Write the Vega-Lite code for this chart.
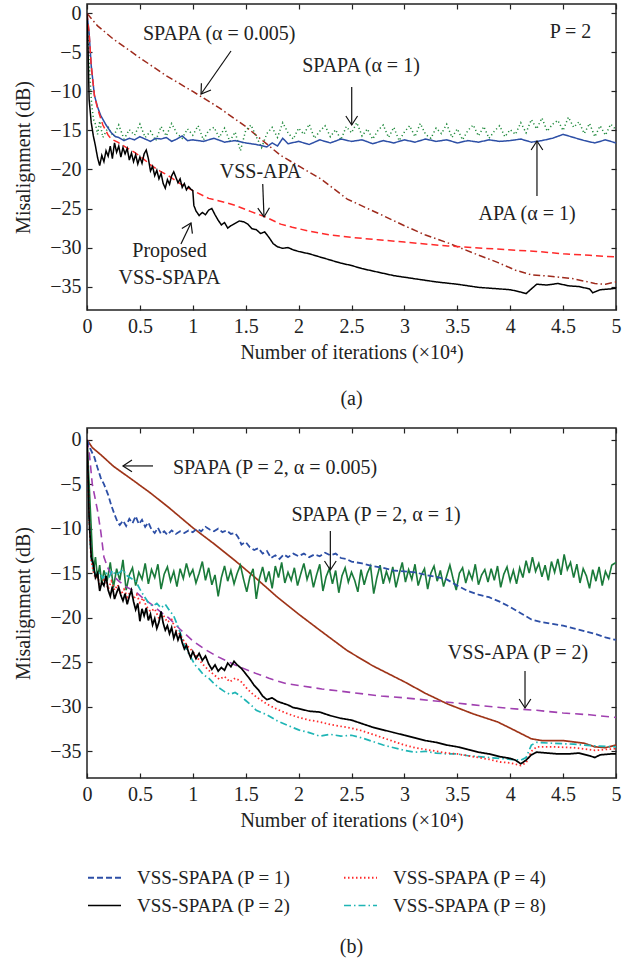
{
"$schema":"https://vega.github.io/schema/vega-lite/v6.json",
"padding":{"left":12,"top":2,"right":6,"bottom":5},
"config":{
"font":"Liberation Serif",
"view":{"stroke":"#222","strokeWidth":1.5},
"axis":{"labelFont":"Liberation Serif","labelFontSize":20,"labelColor":"#222","titleFont":"Liberation Serif","titleFontSize":20,"titleFontWeight":"normal","titleColor":"#222","tickColor":"#222","tickSize":-5,"tickWidth":1.2,"domain":false,"grid":false,"labelPadding":8,"labelFlush":false,"labelOverlap":false},
"text":{"font":"Liberation Serif","fontSize":20,"color":"#222"},
"title":{"font":"Liberation Serif","fontSize":20,"fontWeight":"normal","color":"#222"}
},
"resolve":{"scale":{"x":"independent","y":"independent","color":"independent","strokeDash":"independent","strokeWidth":"independent"}},
"datasets":{
"a":[
{"s":"a1","x":0,"y":0},{"s":"a1","x":0.1,"y":-1.6},{"s":"a1","x":0.25,"y":-3.3},{"s":"a1","x":0.5,"y":-5.7},{"s":"a1","x":0.75,"y":-8.0},{"s":"a1","x":1.0,"y":-10.0},{"s":"a1","x":1.25,"y":-12.1},{"s":"a1","x":1.5,"y":-14.5},{"s":"a1","x":1.83,"y":-18.2},{"s":"a1","x":2.02,"y":-19.7},{"s":"a1","x":2.21,"y":-21.2},{"s":"a1","x":2.46,"y":-23.8},{"s":"a1","x":2.75,"y":-25.6},{"s":"a1","x":3.0,"y":-27.2},{"s":"a1","x":3.2,"y":-28.4},{"s":"a1","x":3.41,"y":-29.4},{"s":"a1","x":3.65,"y":-30.7},{"s":"a1","x":3.88,"y":-31.9},{"s":"a1","x":4.05,"y":-32.9},{"s":"a1","x":4.2,"y":-33.5},{"s":"a1","x":4.4,"y":-33.7},{"s":"a1","x":4.6,"y":-34.0},{"s":"a1","x":4.8,"y":-34.6},{"s":"a1","x":4.9,"y":-34.7},{"s":"a1","x":5.0,"y":-34.4},
{"s":"a2","x":0,"y":0},{"s":"a2","x":0.02,"y":-6},{"s":"a2","x":0.04,"y":-11},{"s":"a2","x":0.06,"y":-13.5},{"s":"a2","x":0.08,"y":-14.2},{"s":"a2","x":0.1,"y":-15.5},{"s":"a2","x":0.12,"y":-13.8},{"s":"a2","x":0.15,"y":-15.9},{"s":"a2","x":0.2,"y":-14.6},{"s":"a2","x":0.25,"y":-15.8},{"s":"a2","x":0.3,"y":-14.3},{"s":"a2","x":0.35,"y":-16.1},{"s":"a2","x":0.4,"y":-14.9},{"s":"a2","x":0.45,"y":-15.6},{"s":"a2","x":0.5,"y":-14.2},{"s":"a2","x":0.55,"y":-15.9},{"s":"a2","x":0.6,"y":-15.1},{"s":"a2","x":0.65,"y":-16.3},{"s":"a2","x":0.7,"y":-14.5},{"s":"a2","x":0.75,"y":-15.7},{"s":"a2","x":0.8,"y":-14.1},{"s":"a2","x":0.85,"y":-15.4},{"s":"a2","x":0.9,"y":-16.0},{"s":"a2","x":0.95,"y":-14.8},{"s":"a2","x":1.0,"y":-15.6},{"s":"a2","x":1.05,"y":-14.4},{"s":"a2","x":1.1,"y":-16.2},{"s":"a2","x":1.15,"y":-15.0},{"s":"a2","x":1.2,"y":-14.6},{"s":"a2","x":1.25,"y":-15.9},{"s":"a2","x":1.3,"y":-14.7},{"s":"a2","x":1.35,"y":-16.4},{"s":"a2","x":1.4,"y":-15.2},{"s":"a2","x":1.45,"y":-17.6},{"s":"a2","x":1.5,"y":-15.0},{"s":"a2","x":1.55,"y":-14.3},{"s":"a2","x":1.6,"y":-15.8},{"s":"a2","x":1.65,"y":-17.2},{"s":"a2","x":1.7,"y":-15.4},{"s":"a2","x":1.75,"y":-14.6},{"s":"a2","x":1.8,"y":-15.9},{"s":"a2","x":1.85,"y":-14.0},{"s":"a2","x":1.9,"y":-15.3},{"s":"a2","x":1.95,"y":-16.1},{"s":"a2","x":2.0,"y":-14.7},{"s":"a2","x":2.05,"y":-15.5},{"s":"a2","x":2.1,"y":-14.2},{"s":"a2","x":2.15,"y":-16.0},{"s":"a2","x":2.2,"y":-15.1},{"s":"a2","x":2.25,"y":-14.4},{"s":"a2","x":2.3,"y":-15.8},{"s":"a2","x":2.35,"y":-14.9},{"s":"a2","x":2.4,"y":-16.2},{"s":"a2","x":2.45,"y":-14.5},{"s":"a2","x":2.5,"y":-15.3},{"s":"a2","x":2.55,"y":-14.0},{"s":"a2","x":2.6,"y":-15.7},{"s":"a2","x":2.65,"y":-14.8},{"s":"a2","x":2.7,"y":-16.1},{"s":"a2","x":2.75,"y":-15.0},{"s":"a2","x":2.8,"y":-14.3},{"s":"a2","x":2.85,"y":-15.9},{"s":"a2","x":2.9,"y":-14.6},{"s":"a2","x":2.95,"y":-16.3},{"s":"a2","x":3.0,"y":-15.2},{"s":"a2","x":3.05,"y":-14.4},{"s":"a2","x":3.1,"y":-15.8},{"s":"a2","x":3.15,"y":-14.1},{"s":"a2","x":3.2,"y":-15.5},{"s":"a2","x":3.25,"y":-16.0},{"s":"a2","x":3.3,"y":-14.7},{"s":"a2","x":3.35,"y":-15.4},{"s":"a2","x":3.4,"y":-14.2},{"s":"a2","x":3.45,"y":-15.9},{"s":"a2","x":3.5,"y":-14.8},{"s":"a2","x":3.55,"y":-16.2},{"s":"a2","x":3.6,"y":-15.0},{"s":"a2","x":3.65,"y":-14.3},{"s":"a2","x":3.7,"y":-15.7},{"s":"a2","x":3.75,"y":-14.5},{"s":"a2","x":3.8,"y":-16.0},{"s":"a2","x":3.85,"y":-15.1},{"s":"a2","x":3.9,"y":-14.4},{"s":"a2","x":3.95,"y":-15.8},{"s":"a2","x":4.0,"y":-14.9},{"s":"a2","x":4.05,"y":-15.5},{"s":"a2","x":4.1,"y":-14.0},{"s":"a2","x":4.15,"y":-15.3},{"s":"a2","x":4.2,"y":-13.6},{"s":"a2","x":4.25,"y":-14.8},{"s":"a2","x":4.3,"y":-13.4},{"s":"a2","x":4.35,"y":-15.1},{"s":"a2","x":4.4,"y":-14.2},{"s":"a2","x":4.45,"y":-13.7},{"s":"a2","x":4.5,"y":-15.0},{"s":"a2","x":4.55,"y":-13.3},{"s":"a2","x":4.6,"y":-14.6},{"s":"a2","x":4.65,"y":-13.9},{"s":"a2","x":4.7,"y":-15.4},{"s":"a2","x":4.75,"y":-14.1},{"s":"a2","x":4.8,"y":-15.8},{"s":"a2","x":4.85,"y":-14.4},{"s":"a2","x":4.9,"y":-15.6},{"s":"a2","x":4.95,"y":-14.2},{"s":"a2","x":5.0,"y":-14.9},
{"s":"a3","x":0,"y":0},{"s":"a3","x":0.02,"y":-2.5},{"s":"a3","x":0.04,"y":-6.7},{"s":"a3","x":0.07,"y":-10.5},{"s":"a3","x":0.1,"y":-12.0},{"s":"a3","x":0.13,"y":-13.1},{"s":"a3","x":0.18,"y":-14.3},{"s":"a3","x":0.23,"y":-15.3},{"s":"a3","x":0.27,"y":-15.8},{"s":"a3","x":0.3,"y":-15.9},{"s":"a3","x":0.35,"y":-16.3},{"s":"a3","x":0.4,"y":-16.0},{"s":"a3","x":0.45,"y":-16.2},{"s":"a3","x":0.5,"y":-15.8},{"s":"a3","x":0.55,"y":-16.1},{"s":"a3","x":0.6,"y":-16.4},{"s":"a3","x":0.65,"y":-16.0},{"s":"a3","x":0.7,"y":-16.1},{"s":"a3","x":0.75,"y":-15.9},{"s":"a3","x":0.8,"y":-16.4},{"s":"a3","x":0.85,"y":-16.1},{"s":"a3","x":0.9,"y":-15.7},{"s":"a3","x":0.95,"y":-16.3},{"s":"a3","x":1.0,"y":-16.2},{"s":"a3","x":1.1,"y":-16.4},{"s":"a3","x":1.2,"y":-16.0},{"s":"a3","x":1.3,"y":-16.5},{"s":"a3","x":1.4,"y":-16.3},{"s":"a3","x":1.5,"y":-16.6},{"s":"a3","x":1.6,"y":-16.8},{"s":"a3","x":1.7,"y":-17.1},{"s":"a3","x":1.75,"y":-16.6},{"s":"a3","x":1.8,"y":-17.0},{"s":"a3","x":1.85,"y":-16.0},{"s":"a3","x":1.9,"y":-16.7},{"s":"a3","x":2.0,"y":-16.4},{"s":"a3","x":2.1,"y":-16.8},{"s":"a3","x":2.2,"y":-16.2},{"s":"a3","x":2.3,"y":-16.6},{"s":"a3","x":2.4,"y":-16.1},{"s":"a3","x":2.5,"y":-16.4},{"s":"a3","x":2.6,"y":-16.2},{"s":"a3","x":2.7,"y":-16.7},{"s":"a3","x":2.8,"y":-16.3},{"s":"a3","x":2.9,"y":-16.6},{"s":"a3","x":3.0,"y":-16.2},{"s":"a3","x":3.1,"y":-16.5},{"s":"a3","x":3.2,"y":-16.1},{"s":"a3","x":3.3,"y":-16.4},{"s":"a3","x":3.4,"y":-16.2},{"s":"a3","x":3.5,"y":-16.6},{"s":"a3","x":3.6,"y":-16.3},{"s":"a3","x":3.7,"y":-16.5},{"s":"a3","x":3.8,"y":-16.2},{"s":"a3","x":3.9,"y":-16.4},{"s":"a3","x":4.0,"y":-16.3},{"s":"a3","x":4.1,"y":-16.1},{"s":"a3","x":4.2,"y":-16.5},{"s":"a3","x":4.3,"y":-16.3},{"s":"a3","x":4.4,"y":-16.0},{"s":"a3","x":4.5,"y":-15.5},{"s":"a3","x":4.6,"y":-15.9},{"s":"a3","x":4.7,"y":-16.3},{"s":"a3","x":4.8,"y":-16.6},{"s":"a3","x":4.9,"y":-16.2},{"s":"a3","x":5.0,"y":-16.6},
{"s":"a4","x":0,"y":0},{"s":"a4","x":0.02,"y":-2.5},{"s":"a4","x":0.04,"y":-6.7},{"s":"a4","x":0.07,"y":-10.5},{"s":"a4","x":0.1,"y":-12.2},{"s":"a4","x":0.15,"y":-14.3},{"s":"a4","x":0.2,"y":-15.6},{"s":"a4","x":0.23,"y":-16.1},{"s":"a4","x":0.29,"y":-16.5},{"s":"a4","x":0.35,"y":-17.0},{"s":"a4","x":0.45,"y":-17.8},{"s":"a4","x":0.53,"y":-18.6},{"s":"a4","x":0.61,"y":-19.5},{"s":"a4","x":0.69,"y":-20.2},{"s":"a4","x":0.77,"y":-20.8},{"s":"a4","x":0.88,"y":-21.8},{"s":"a4","x":1.0,"y":-22.7},{"s":"a4","x":1.15,"y":-23.7},{"s":"a4","x":1.3,"y":-24.2},{"s":"a4","x":1.4,"y":-24.6},{"s":"a4","x":1.55,"y":-25.4},{"s":"a4","x":1.69,"y":-26.1},{"s":"a4","x":1.83,"y":-27.0},{"s":"a4","x":1.94,"y":-27.4},{"s":"a4","x":2.1,"y":-27.9},{"s":"a4","x":2.3,"y":-28.4},{"s":"a4","x":2.5,"y":-28.7},{"s":"a4","x":2.75,"y":-29.0},{"s":"a4","x":3.0,"y":-29.3},{"s":"a4","x":3.41,"y":-29.8},{"s":"a4","x":3.88,"y":-30.2},{"s":"a4","x":4.25,"y":-30.5},{"s":"a4","x":4.5,"y":-30.8},{"s":"a4","x":4.75,"y":-31.0},{"s":"a4","x":5.0,"y":-31.2},
{"s":"a5","x":0,"y":0},{"s":"a5","x":0.01,"y":-4.6},{"s":"a5","x":0.02,"y":-11},{"s":"a5","x":0.04,"y":-14},{"s":"a5","x":0.06,"y":-15.7},{"s":"a5","x":0.08,"y":-17},{"s":"a5","x":0.1,"y":-18.5},{"s":"a5","x":0.12,"y":-19.5},{"s":"a5","x":0.14,"y":-18.2},{"s":"a5","x":0.16,"y":-19.0},{"s":"a5","x":0.18,"y":-17.6},{"s":"a5","x":0.2,"y":-18.3},{"s":"a5","x":0.22,"y":-17.0},{"s":"a5","x":0.24,"y":-18.6},{"s":"a5","x":0.26,"y":-16.6},{"s":"a5","x":0.28,"y":-17.8},{"s":"a5","x":0.3,"y":-17.0},{"s":"a5","x":0.32,"y":-18.4},{"s":"a5","x":0.34,"y":-17.2},{"s":"a5","x":0.36,"y":-18.0},{"s":"a5","x":0.38,"y":-17.3},{"s":"a5","x":0.4,"y":-18.8},{"s":"a5","x":0.42,"y":-17.9},{"s":"a5","x":0.44,"y":-19.0},{"s":"a5","x":0.46,"y":-18.1},{"s":"a5","x":0.48,"y":-19.3},{"s":"a5","x":0.5,"y":-18.4},{"s":"a5","x":0.52,"y":-19.2},{"s":"a5","x":0.54,"y":-18.0},{"s":"a5","x":0.56,"y":-17.5},{"s":"a5","x":0.58,"y":-18.6},{"s":"a5","x":0.6,"y":-20.2},{"s":"a5","x":0.62,"y":-19.6},{"s":"a5","x":0.64,"y":-20.8},{"s":"a5","x":0.66,"y":-20.1},{"s":"a5","x":0.68,"y":-21.2},{"s":"a5","x":0.7,"y":-20.5},{"s":"a5","x":0.72,"y":-21.8},{"s":"a5","x":0.74,"y":-22.4},{"s":"a5","x":0.76,"y":-21.3},{"s":"a5","x":0.78,"y":-21.9},{"s":"a5","x":0.8,"y":-20.8},{"s":"a5","x":0.82,"y":-20.3},{"s":"a5","x":0.84,"y":-21.0},{"s":"a5","x":0.86,"y":-21.7},{"s":"a5","x":0.88,"y":-21.2},{"s":"a5","x":0.9,"y":-22.3},{"s":"a5","x":0.92,"y":-21.8},{"s":"a5","x":0.94,"y":-22.6},{"s":"a5","x":0.96,"y":-22.2},{"s":"a5","x":0.98,"y":-22.5},{"s":"a5","x":1.0,"y":-22.7},{"s":"a5","x":1.01,"y":-24.6},{"s":"a5","x":1.03,"y":-25.3},{"s":"a5","x":1.06,"y":-25.9},{"s":"a5","x":1.09,"y":-25.5},{"s":"a5","x":1.12,"y":-25.8},{"s":"a5","x":1.15,"y":-25.2},{"s":"a5","x":1.18,"y":-25.0},{"s":"a5","x":1.21,"y":-25.8},{"s":"a5","x":1.24,"y":-26.5},{"s":"a5","x":1.27,"y":-27.1},{"s":"a5","x":1.3,"y":-26.8},{"s":"a5","x":1.33,"y":-27.5},{"s":"a5","x":1.36,"y":-27.2},{"s":"a5","x":1.4,"y":-26.9},{"s":"a5","x":1.44,"y":-26.6},{"s":"a5","x":1.48,"y":-26.7},{"s":"a5","x":1.52,"y":-27.0},{"s":"a5","x":1.56,"y":-27.6},{"s":"a5","x":1.6,"y":-27.7},{"s":"a5","x":1.64,"y":-28.2},{"s":"a5","x":1.68,"y":-28.0},{"s":"a5","x":1.72,"y":-28.7},{"s":"a5","x":1.76,"y":-29.5},{"s":"a5","x":1.8,"y":-29.9},{"s":"a5","x":1.85,"y":-30.1},{"s":"a5","x":1.9,"y":-30.0},{"s":"a5","x":1.95,"y":-30.3},{"s":"a5","x":2.0,"y":-30.5},{"s":"a5","x":2.1,"y":-30.8},{"s":"a5","x":2.2,"y":-31.2},{"s":"a5","x":2.3,"y":-31.6},{"s":"a5","x":2.4,"y":-32.0},{"s":"a5","x":2.5,"y":-32.3},{"s":"a5","x":2.6,"y":-32.7},{"s":"a5","x":2.7,"y":-33.0},{"s":"a5","x":2.8,"y":-33.3},{"s":"a5","x":2.9,"y":-33.6},{"s":"a5","x":3.1,"y":-34.0},{"s":"a5","x":3.3,"y":-34.4},{"s":"a5","x":3.5,"y":-34.7},{"s":"a5","x":3.7,"y":-35.1},{"s":"a5","x":3.9,"y":-35.3},{"s":"a5","x":4.0,"y":-35.4},{"s":"a5","x":4.1,"y":-35.7},{"s":"a5","x":4.15,"y":-35.9},{"s":"a5","x":4.2,"y":-35.3},{"s":"a5","x":4.25,"y":-34.7},{"s":"a5","x":4.35,"y":-34.8},{"s":"a5","x":4.45,"y":-34.6},{"s":"a5","x":4.55,"y":-34.9},{"s":"a5","x":4.65,"y":-35.0},{"s":"a5","x":4.75,"y":-35.3},{"s":"a5","x":4.78,"y":-35.8},{"s":"a5","x":4.85,"y":-35.4},{"s":"a5","x":4.95,"y":-35.3},{"s":"a5","x":5.0,"y":-35.2}
],
"b":[
{"s":"bs","x":0,"y":0},{"s":"bs","x":0.05,"y":-0.9},{"s":"bs","x":0.13,"y":-1.7},{"s":"bs","x":0.25,"y":-3.0},{"s":"bs","x":0.45,"y":-4.7},{"s":"bs","x":0.6,"y":-6.0},{"s":"bs","x":0.77,"y":-7.6},{"s":"bs","x":1.0,"y":-9.9},{"s":"bs","x":1.2,"y":-11.7},{"s":"bs","x":1.4,"y":-13.6},{"s":"bs","x":1.6,"y":-15.6},{"s":"bs","x":1.8,"y":-17.7},{"s":"bs","x":2.0,"y":-19.6},{"s":"bs","x":2.2,"y":-21.4},{"s":"bs","x":2.46,"y":-23.7},{"s":"bs","x":2.7,"y":-25.4},{"s":"bs","x":3.0,"y":-27.2},{"s":"bs","x":3.2,"y":-28.5},{"s":"bs","x":3.41,"y":-29.7},{"s":"bs","x":3.65,"y":-30.8},{"s":"bs","x":3.88,"y":-31.7},{"s":"bs","x":4.0,"y":-32.4},{"s":"bs","x":4.2,"y":-33.6},{"s":"bs","x":4.3,"y":-33.8},{"s":"bs","x":4.5,"y":-33.8},{"s":"bs","x":4.7,"y":-34.1},{"s":"bs","x":4.8,"y":-34.5},{"s":"bs","x":4.9,"y":-34.6},{"s":"bs","x":5.0,"y":-34.3},
{"s":"bg","x":0,"y":0},{"s":"bg","x":0.02,"y":-5},{"s":"bg","x":0.04,"y":-10},{"s":"bg","x":0.05,"y":-12.5},{"s":"bg","x":0.06,"y":-14.8},{"s":"bg","x":0.08,"y":-13.2},{"s":"bg","x":0.1,"y":-15.6},{"s":"bg","x":0.12,"y":-14.1},{"s":"bg","x":0.14,"y":-16.3},{"s":"bg","x":0.16,"y":-14.7},{"s":"bg","x":0.19,"y":-15.9},{"s":"bg","x":0.22,"y":-13.8},{"s":"bg","x":0.25,"y":-16.6},{"s":"bg","x":0.28,"y":-14.5},{"s":"bg","x":0.31,"y":-15.8},{"s":"bg","x":0.34,"y":-13.5},{"s":"bg","x":0.37,"y":-16.9},{"s":"bg","x":0.4,"y":-15.2},{"s":"bg","x":0.43,"y":-14.4},{"s":"bg","x":0.46,"y":-16.4},{"s":"bg","x":0.49,"y":-14.9},{"s":"bg","x":0.52,"y":-15.7},{"s":"bg","x":0.55,"y":-13.9},{"s":"bg","x":0.58,"y":-16.2},{"s":"bg","x":0.61,"y":-14.6},{"s":"bg","x":0.64,"y":-15.5},{"s":"bg","x":0.67,"y":-14.0},{"s":"bg","x":0.7,"y":-16.8},{"s":"bg","x":0.73,"y":-15.1},{"s":"bg","x":0.76,"y":-14.3},{"s":"bg","x":0.79,"y":-15.9},{"s":"bg","x":0.82,"y":-14.8},{"s":"bg","x":0.85,"y":-16.5},{"s":"bg","x":0.88,"y":-14.5},{"s":"bg","x":0.91,"y":-15.6},{"s":"bg","x":0.94,"y":-13.9},{"s":"bg","x":0.97,"y":-15.3},{"s":"bg","x":1.0,"y":-14.6},{"s":"bg","x":1.03,"y":-16.1},{"s":"bg","x":1.06,"y":-15.0},{"s":"bg","x":1.09,"y":-13.7},{"s":"bg","x":1.12,"y":-15.8},{"s":"bg","x":1.15,"y":-14.4},{"s":"bg","x":1.18,"y":-16.3},{"s":"bg","x":1.21,"y":-15.2},{"s":"bg","x":1.24,"y":-17.6},{"s":"bg","x":1.27,"y":-15.5},{"s":"bg","x":1.3,"y":-14.2},{"s":"bg","x":1.33,"y":-15.9},{"s":"bg","x":1.36,"y":-14.7},{"s":"bg","x":1.39,"y":-16.2},{"s":"bg","x":1.42,"y":-15.0},{"s":"bg","x":1.45,"y":-14.1},{"s":"bg","x":1.48,"y":-15.7},{"s":"bg","x":1.51,"y":-17.1},{"s":"bg","x":1.54,"y":-15.4},{"s":"bg","x":1.57,"y":-14.5},{"s":"bg","x":1.6,"y":-17.9},{"s":"bg","x":1.63,"y":-15.6},{"s":"bg","x":1.66,"y":-14.3},{"s":"bg","x":1.69,"y":-16.0},{"s":"bg","x":1.72,"y":-14.8},{"s":"bg","x":1.75,"y":-16.7},{"s":"bg","x":1.78,"y":-14.2},{"s":"bg","x":1.81,"y":-15.5},{"s":"bg","x":1.84,"y":-13.8},{"s":"bg","x":1.87,"y":-16.1},{"s":"bg","x":1.9,"y":-14.9},{"s":"bg","x":1.93,"y":-15.8},{"s":"bg","x":1.96,"y":-14.4},{"s":"bg","x":1.99,"y":-16.4},{"s":"bg","x":2.02,"y":-15.1},{"s":"bg","x":2.05,"y":-13.9},{"s":"bg","x":2.08,"y":-15.7},{"s":"bg","x":2.11,"y":-14.6},{"s":"bg","x":2.14,"y":-16.6},{"s":"bg","x":2.17,"y":-15.2},{"s":"bg","x":2.2,"y":-14.0},{"s":"bg","x":2.23,"y":-17.0},{"s":"bg","x":2.26,"y":-15.4},{"s":"bg","x":2.29,"y":-14.5},{"s":"bg","x":2.32,"y":-16.2},{"s":"bg","x":2.35,"y":-14.7},{"s":"bg","x":2.38,"y":-17.2},{"s":"bg","x":2.41,"y":-15.3},{"s":"bg","x":2.44,"y":-14.4},{"s":"bg","x":2.47,"y":-16.0},{"s":"bg","x":2.5,"y":-14.9},{"s":"bg","x":2.53,"y":-15.8},{"s":"bg","x":2.56,"y":-17.1},{"s":"bg","x":2.59,"y":-14.6},{"s":"bg","x":2.62,"y":-16.3},{"s":"bg","x":2.65,"y":-15.0},{"s":"bg","x":2.68,"y":-14.2},{"s":"bg","x":2.71,"y":-17.3},{"s":"bg","x":2.74,"y":-15.5},{"s":"bg","x":2.77,"y":-14.1},{"s":"bg","x":2.8,"y":-16.2},{"s":"bg","x":2.83,"y":-14.8},{"s":"bg","x":2.86,"y":-15.9},{"s":"bg","x":2.89,"y":-14.3},{"s":"bg","x":2.92,"y":-16.6},{"s":"bg","x":2.95,"y":-15.1},{"s":"bg","x":2.98,"y":-13.8},{"s":"bg","x":3.01,"y":-16.0},{"s":"bg","x":3.04,"y":-14.6},{"s":"bg","x":3.07,"y":-15.7},{"s":"bg","x":3.1,"y":-14.0},{"s":"bg","x":3.13,"y":-16.4},{"s":"bg","x":3.16,"y":-15.2},{"s":"bg","x":3.19,"y":-14.5},{"s":"bg","x":3.22,"y":-16.8},{"s":"bg","x":3.25,"y":-15.0},{"s":"bg","x":3.28,"y":-14.2},{"s":"bg","x":3.31,"y":-15.9},{"s":"bg","x":3.34,"y":-14.7},{"s":"bg","x":3.37,"y":-16.5},{"s":"bg","x":3.4,"y":-15.3},{"s":"bg","x":3.43,"y":-14.1},{"s":"bg","x":3.46,"y":-15.6},{"s":"bg","x":3.49,"y":-16.9},{"s":"bg","x":3.52,"y":-15.0},{"s":"bg","x":3.55,"y":-14.4},{"s":"bg","x":3.58,"y":-16.1},{"s":"bg","x":3.61,"y":-14.8},{"s":"bg","x":3.64,"y":-15.7},{"s":"bg","x":3.67,"y":-14.0},{"s":"bg","x":3.7,"y":-16.3},{"s":"bg","x":3.73,"y":-15.2},{"s":"bg","x":3.76,"y":-14.6},{"s":"bg","x":3.79,"y":-16.0},{"s":"bg","x":3.82,"y":-14.5},{"s":"bg","x":3.85,"y":-15.8},{"s":"bg","x":3.88,"y":-14.2},{"s":"bg","x":3.91,"y":-16.6},{"s":"bg","x":3.94,"y":-15.1},{"s":"bg","x":3.97,"y":-14.3},{"s":"bg","x":4.0,"y":-15.9},{"s":"bg","x":4.03,"y":-14.7},{"s":"bg","x":4.06,"y":-16.2},{"s":"bg","x":4.09,"y":-14.4},{"s":"bg","x":4.12,"y":-15.5},{"s":"bg","x":4.15,"y":-13.6},{"s":"bg","x":4.18,"y":-15.0},{"s":"bg","x":4.21,"y":-13.2},{"s":"bg","x":4.24,"y":-14.8},{"s":"bg","x":4.27,"y":-13.9},{"s":"bg","x":4.3,"y":-15.4},{"s":"bg","x":4.33,"y":-14.1},{"s":"bg","x":4.36,"y":-15.8},{"s":"bg","x":4.39,"y":-13.7},{"s":"bg","x":4.42,"y":-14.9},{"s":"bg","x":4.45,"y":-13.4},{"s":"bg","x":4.48,"y":-15.2},{"s":"bg","x":4.51,"y":-12.9},{"s":"bg","x":4.54,"y":-14.6},{"s":"bg","x":4.57,"y":-13.8},{"s":"bg","x":4.6,"y":-15.5},{"s":"bg","x":4.63,"y":-14.0},{"s":"bg","x":4.66,"y":-16.1},{"s":"bg","x":4.69,"y":-14.5},{"s":"bg","x":4.72,"y":-15.3},{"s":"bg","x":4.75,"y":-16.7},{"s":"bg","x":4.78,"y":-14.6},{"s":"bg","x":4.81,"y":-15.9},{"s":"bg","x":4.84,"y":-14.3},{"s":"bg","x":4.87,"y":-16.4},{"s":"bg","x":4.9,"y":-14.8},{"s":"bg","x":4.93,"y":-15.6},{"s":"bg","x":4.96,"y":-14.1},{"s":"bg","x":5.0,"y":-13.8},
{"s":"bm","x":0,"y":0},{"s":"bm","x":0.02,"y":-1.3},{"s":"bm","x":0.05,"y":-5},{"s":"bm","x":0.1,"y":-8},{"s":"bm","x":0.13,"y":-10.3},{"s":"bm","x":0.16,"y":-13.2},{"s":"bm","x":0.2,"y":-14.5},{"s":"bm","x":0.23,"y":-15.1},{"s":"bm","x":0.3,"y":-15.9},{"s":"bm","x":0.38,"y":-16.6},{"s":"bm","x":0.45,"y":-17.0},{"s":"bm","x":0.53,"y":-17.8},{"s":"bm","x":0.61,"y":-18.5},{"s":"bm","x":0.69,"y":-19.3},{"s":"bm","x":0.77,"y":-20.0},{"s":"bm","x":0.88,"y":-21.3},{"s":"bm","x":1.0,"y":-22.6},{"s":"bm","x":1.12,"y":-23.6},{"s":"bm","x":1.24,"y":-24.4},{"s":"bm","x":1.4,"y":-25.3},{"s":"bm","x":1.56,"y":-26.1},{"s":"bm","x":1.72,"y":-26.8},{"s":"bm","x":1.88,"y":-27.4},{"s":"bm","x":2.05,"y":-27.7},{"s":"bm","x":2.22,"y":-28.0},{"s":"bm","x":2.5,"y":-28.4},{"s":"bm","x":2.78,"y":-28.8},{"s":"bm","x":3.0,"y":-29.0},{"s":"bm","x":3.25,"y":-29.3},{"s":"bm","x":3.5,"y":-29.6},{"s":"bm","x":3.75,"y":-29.9},{"s":"bm","x":4.0,"y":-30.2},{"s":"bm","x":4.25,"y":-30.4},{"s":"bm","x":4.5,"y":-30.7},{"s":"bm","x":4.75,"y":-30.9},{"s":"bm","x":5.0,"y":-31.2},
{"s":"k1","x":0,"y":0},{"s":"k1","x":0.03,"y":-1},{"s":"k1","x":0.07,"y":-2},{"s":"k1","x":0.1,"y":-3.2},{"s":"k1","x":0.13,"y":-4.3},{"s":"k1","x":0.16,"y":-5.0},{"s":"k1","x":0.2,"y":-6.2},{"s":"k1","x":0.23,"y":-7.4},{"s":"k1","x":0.26,"y":-8.4},{"s":"k1","x":0.29,"y":-9.3},{"s":"k1","x":0.31,"y":-9.6},{"s":"k1","x":0.34,"y":-9.1},{"s":"k1","x":0.37,"y":-9.7},{"s":"k1","x":0.4,"y":-8.9},{"s":"k1","x":0.43,"y":-9.4},{"s":"k1","x":0.46,"y":-8.6},{"s":"k1","x":0.49,"y":-9.5},{"s":"k1","x":0.52,"y":-9.0},{"s":"k1","x":0.55,"y":-9.8},{"s":"k1","x":0.58,"y":-9.3},{"s":"k1","x":0.61,"y":-10.1},{"s":"k1","x":0.64,"y":-10.5},{"s":"k1","x":0.67,"y":-9.9},{"s":"k1","x":0.7,"y":-10.6},{"s":"k1","x":0.73,"y":-10.3},{"s":"k1","x":0.76,"y":-10.7},{"s":"k1","x":0.8,"y":-10.2},{"s":"k1","x":0.84,"y":-10.6},{"s":"k1","x":0.88,"y":-10.3},{"s":"k1","x":0.92,"y":-10.5},{"s":"k1","x":0.96,"y":-10.2},{"s":"k1","x":1.0,"y":-10.4},{"s":"k1","x":1.04,"y":-10.0},{"s":"k1","x":1.08,"y":-10.3},{"s":"k1","x":1.12,"y":-9.8},{"s":"k1","x":1.16,"y":-10.1},{"s":"k1","x":1.2,"y":-10.3},{"s":"k1","x":1.24,"y":-10.0},{"s":"k1","x":1.28,"y":-10.4},{"s":"k1","x":1.32,"y":-10.2},{"s":"k1","x":1.36,"y":-10.6},{"s":"k1","x":1.4,"y":-10.5},{"s":"k1","x":1.43,"y":-11.0},{"s":"k1","x":1.46,"y":-11.8},{"s":"k1","x":1.5,"y":-11.5},{"s":"k1","x":1.54,"y":-12.1},{"s":"k1","x":1.58,"y":-12.4},{"s":"k1","x":1.62,"y":-12.2},{"s":"k1","x":1.66,"y":-12.8},{"s":"k1","x":1.7,"y":-12.5},{"s":"k1","x":1.74,"y":-13.3},{"s":"k1","x":1.78,"y":-13.0},{"s":"k1","x":1.82,"y":-13.4},{"s":"k1","x":1.86,"y":-12.9},{"s":"k1","x":1.9,"y":-13.2},{"s":"k1","x":1.95,"y":-12.8},{"s":"k1","x":2.0,"y":-13.1},{"s":"k1","x":2.05,"y":-12.8},{"s":"k1","x":2.1,"y":-13.2},{"s":"k1","x":2.15,"y":-12.9},{"s":"k1","x":2.2,"y":-13.1},{"s":"k1","x":2.25,"y":-12.7},{"s":"k1","x":2.3,"y":-13.0},{"s":"k1","x":2.35,"y":-12.8},{"s":"k1","x":2.4,"y":-13.3},{"s":"k1","x":2.45,"y":-13.4},{"s":"k1","x":2.5,"y":-13.7},{"s":"k1","x":2.6,"y":-13.9},{"s":"k1","x":2.7,"y":-14.2},{"s":"k1","x":2.8,"y":-14.4},{"s":"k1","x":2.9,"y":-14.7},{"s":"k1","x":3.0,"y":-14.8},{"s":"k1","x":3.1,"y":-14.9},{"s":"k1","x":3.2,"y":-15.2},{"s":"k1","x":3.3,"y":-15.4},{"s":"k1","x":3.4,"y":-15.7},{"s":"k1","x":3.5,"y":-16.4},{"s":"k1","x":3.6,"y":-17.0},{"s":"k1","x":3.7,"y":-17.4},{"s":"k1","x":3.8,"y":-17.7},{"s":"k1","x":3.9,"y":-18.2},{"s":"k1","x":4.0,"y":-18.8},{"s":"k1","x":4.1,"y":-19.5},{"s":"k1","x":4.2,"y":-20.2},{"s":"k1","x":4.3,"y":-20.5},{"s":"k1","x":4.4,"y":-20.7},{"s":"k1","x":4.5,"y":-20.9},{"s":"k1","x":4.6,"y":-21.2},{"s":"k1","x":4.7,"y":-21.5},{"s":"k1","x":4.8,"y":-21.8},{"s":"k1","x":4.9,"y":-22.2},{"s":"k1","x":5.0,"y":-22.5},
{"s":"k4","x":0,"y":0},{"s":"k4","x":0.01,"y":-4},{"s":"k4","x":0.02,"y":-8.8},{"s":"k4","x":0.04,"y":-13.4},{"s":"k4","x":0.06,"y":-14.6},{"s":"k4","x":0.09,"y":-15.3},{"s":"k4","x":0.12,"y":-14.9},{"s":"k4","x":0.15,"y":-15.6},{"s":"k4","x":0.18,"y":-15.0},{"s":"k4","x":0.21,"y":-15.4},{"s":"k4","x":0.24,"y":-14.7},{"s":"k4","x":0.27,"y":-15.2},{"s":"k4","x":0.3,"y":-15.0},{"s":"k4","x":0.34,"y":-14.6},{"s":"k4","x":0.38,"y":-15.3},{"s":"k4","x":0.42,"y":-15.6},{"s":"k4","x":0.46,"y":-15.9},{"s":"k4","x":0.5,"y":-16.8},{"s":"k4","x":0.54,"y":-17.6},{"s":"k4","x":0.58,"y":-18.3},{"s":"k4","x":0.62,"y":-18.7},{"s":"k4","x":0.66,"y":-18.4},{"s":"k4","x":0.7,"y":-18.9},{"s":"k4","x":0.74,"y":-18.5},{"s":"k4","x":0.78,"y":-19.2},{"s":"k4","x":0.82,"y":-19.8},{"s":"k4","x":0.86,"y":-21.0},{"s":"k4","x":0.9,"y":-22.3},{"s":"k4","x":0.94,"y":-23.6},{"s":"k4","x":0.98,"y":-24.4},{"s":"k4","x":1.02,"y":-25.3},{"s":"k4","x":1.06,"y":-25.8},{"s":"k4","x":1.1,"y":-26.4},{"s":"k4","x":1.15,"y":-26.8},{"s":"k4","x":1.2,"y":-27.4},{"s":"k4","x":1.25,"y":-27.9},{"s":"k4","x":1.3,"y":-28.3},{"s":"k4","x":1.35,"y":-28.6},{"s":"k4","x":1.4,"y":-28.4},{"s":"k4","x":1.45,"y":-28.8},{"s":"k4","x":1.5,"y":-29.3},{"s":"k4","x":1.55,"y":-29.8},{"s":"k4","x":1.6,"y":-30.4},{"s":"k4","x":1.7,"y":-30.9},{"s":"k4","x":1.8,"y":-31.6},{"s":"k4","x":1.9,"y":-32.1},{"s":"k4","x":2.0,"y":-32.6},{"s":"k4","x":2.1,"y":-32.9},{"s":"k4","x":2.2,"y":-33.3},{"s":"k4","x":2.3,"y":-33.1},{"s":"k4","x":2.4,"y":-33.3},{"s":"k4","x":2.5,"y":-33.2},{"s":"k4","x":2.6,"y":-33.5},{"s":"k4","x":2.7,"y":-33.9},{"s":"k4","x":2.8,"y":-34.3},{"s":"k4","x":2.9,"y":-34.6},{"s":"k4","x":3.0,"y":-34.9},{"s":"k4","x":3.1,"y":-35.1},{"s":"k4","x":3.2,"y":-35.0},{"s":"k4","x":3.3,"y":-35.2},{"s":"k4","x":3.4,"y":-35.3},{"s":"k4","x":3.5,"y":-35.3},{"s":"k4","x":3.6,"y":-35.5},{"s":"k4","x":3.7,"y":-35.6},{"s":"k4","x":3.8,"y":-35.7},{"s":"k4","x":3.9,"y":-35.8},{"s":"k4","x":4.0,"y":-35.9},{"s":"k4","x":4.1,"y":-36.0},{"s":"k4","x":4.15,"y":-35.7},{"s":"k4","x":4.2,"y":-34.3},{"s":"k4","x":4.25,"y":-34.0},{"s":"k4","x":4.4,"y":-34.1},{"s":"k4","x":4.6,"y":-34.2},{"s":"k4","x":4.8,"y":-34.4},{"s":"k4","x":5.0,"y":-34.5},
{"s":"k2","x":0,"y":0},{"s":"k2","x":0.01,"y":-4},{"s":"k2","x":0.02,"y":-8.8},{"s":"k2","x":0.04,"y":-13.6},{"s":"k2","x":0.06,"y":-14.8},{"s":"k2","x":0.08,"y":-15.6},{"s":"k2","x":0.1,"y":-15.2},{"s":"k2","x":0.12,"y":-16.6},{"s":"k2","x":0.14,"y":-16.1},{"s":"k2","x":0.17,"y":-15.5},{"s":"k2","x":0.2,"y":-16.8},{"s":"k2","x":0.23,"y":-15.9},{"s":"k2","x":0.26,"y":-16.9},{"s":"k2","x":0.29,"y":-16.3},{"s":"k2","x":0.32,"y":-17.4},{"s":"k2","x":0.35,"y":-16.8},{"s":"k2","x":0.38,"y":-17.7},{"s":"k2","x":0.41,"y":-17.1},{"s":"k2","x":0.44,"y":-17.9},{"s":"k2","x":0.47,"y":-17.4},{"s":"k2","x":0.5,"y":-18.3},{"s":"k2","x":0.53,"y":-17.8},{"s":"k2","x":0.56,"y":-18.7},{"s":"k2","x":0.6,"y":-19.3},{"s":"k2","x":0.64,"y":-19.0},{"s":"k2","x":0.68,"y":-20.1},{"s":"k2","x":0.72,"y":-19.7},{"s":"k2","x":0.76,"y":-20.5},{"s":"k2","x":0.8,"y":-20.2},{"s":"k2","x":0.84,"y":-21.4},{"s":"k2","x":0.88,"y":-21.9},{"s":"k2","x":0.92,"y":-22.7},{"s":"k2","x":0.96,"y":-23.3},{"s":"k2","x":1.0,"y":-23.8},{"s":"k2","x":1.05,"y":-24.6},{"s":"k2","x":1.1,"y":-25.3},{"s":"k2","x":1.15,"y":-25.9},{"s":"k2","x":1.2,"y":-26.4},{"s":"k2","x":1.25,"y":-26.9},{"s":"k2","x":1.3,"y":-26.6},{"s":"k2","x":1.35,"y":-27.2},{"s":"k2","x":1.4,"y":-26.8},{"s":"k2","x":1.45,"y":-27.1},{"s":"k2","x":1.5,"y":-27.8},{"s":"k2","x":1.55,"y":-28.4},{"s":"k2","x":1.6,"y":-28.9},{"s":"k2","x":1.65,"y":-29.3},{"s":"k2","x":1.7,"y":-29.7},{"s":"k2","x":1.8,"y":-30.3},{"s":"k2","x":1.9,"y":-30.8},{"s":"k2","x":2.0,"y":-31.2},{"s":"k2","x":2.1,"y":-31.5},{"s":"k2","x":2.2,"y":-31.7},{"s":"k2","x":2.3,"y":-32.0},{"s":"k2","x":2.4,"y":-32.2},{"s":"k2","x":2.5,"y":-32.4},{"s":"k2","x":2.6,"y":-32.7},{"s":"k2","x":2.7,"y":-33.1},{"s":"k2","x":2.8,"y":-33.5},{"s":"k2","x":2.9,"y":-33.9},{"s":"k2","x":3.0,"y":-34.3},{"s":"k2","x":3.1,"y":-34.6},{"s":"k2","x":3.2,"y":-34.8},{"s":"k2","x":3.3,"y":-35.0},{"s":"k2","x":3.4,"y":-35.2},{"s":"k2","x":3.5,"y":-35.3},{"s":"k2","x":3.6,"y":-35.5},{"s":"k2","x":3.7,"y":-35.7},{"s":"k2","x":3.8,"y":-35.9},{"s":"k2","x":3.9,"y":-36.2},{"s":"k2","x":4.0,"y":-36.3},{"s":"k2","x":4.1,"y":-36.6},{"s":"k2","x":4.15,"y":-36.3},{"s":"k2","x":4.2,"y":-35.0},{"s":"k2","x":4.25,"y":-34.5},{"s":"k2","x":4.4,"y":-34.5},{"s":"k2","x":4.6,"y":-34.6},{"s":"k2","x":4.8,"y":-34.9},{"s":"k2","x":5.0,"y":-34.7},
{"s":"k3","x":0,"y":0},{"s":"k3","x":0.01,"y":-4},{"s":"k3","x":0.02,"y":-8.8},{"s":"k3","x":0.04,"y":-13.2},{"s":"k3","x":0.06,"y":-14.0},{"s":"k3","x":0.08,"y":-15.5},{"s":"k3","x":0.1,"y":-15.0},{"s":"k3","x":0.12,"y":-17.0},{"s":"k3","x":0.14,"y":-16.0},{"s":"k3","x":0.16,"y":-16.4},{"s":"k3","x":0.18,"y":-15.3},{"s":"k3","x":0.2,"y":-16.9},{"s":"k3","x":0.22,"y":-17.6},{"s":"k3","x":0.24,"y":-16.5},{"s":"k3","x":0.26,"y":-17.9},{"s":"k3","x":0.28,"y":-17.2},{"s":"k3","x":0.3,"y":-16.6},{"s":"k3","x":0.32,"y":-17.5},{"s":"k3","x":0.34,"y":-18.1},{"s":"k3","x":0.36,"y":-17.3},{"s":"k3","x":0.38,"y":-18.5},{"s":"k3","x":0.4,"y":-17.6},{"s":"k3","x":0.42,"y":-16.9},{"s":"k3","x":0.44,"y":-18.2},{"s":"k3","x":0.46,"y":-19.1},{"s":"k3","x":0.48,"y":-18.4},{"s":"k3","x":0.5,"y":-20.4},{"s":"k3","x":0.52,"y":-19.0},{"s":"k3","x":0.54,"y":-19.8},{"s":"k3","x":0.56,"y":-18.9},{"s":"k3","x":0.58,"y":-20.3},{"s":"k3","x":0.6,"y":-19.6},{"s":"k3","x":0.62,"y":-20.8},{"s":"k3","x":0.64,"y":-20.1},{"s":"k3","x":0.66,"y":-21.2},{"s":"k3","x":0.68,"y":-20.5},{"s":"k3","x":0.7,"y":-19.3},{"s":"k3","x":0.72,"y":-20.6},{"s":"k3","x":0.74,"y":-21.4},{"s":"k3","x":0.76,"y":-20.9},{"s":"k3","x":0.78,"y":-21.8},{"s":"k3","x":0.8,"y":-21.1},{"s":"k3","x":0.82,"y":-22.3},{"s":"k3","x":0.84,"y":-21.6},{"s":"k3","x":0.86,"y":-22.5},{"s":"k3","x":0.88,"y":-21.9},{"s":"k3","x":0.9,"y":-22.8},{"s":"k3","x":0.92,"y":-23.5},{"s":"k3","x":0.94,"y":-23.1},{"s":"k3","x":0.96,"y":-23.9},{"s":"k3","x":0.98,"y":-24.5},{"s":"k3","x":1.0,"y":-23.8},{"s":"k3","x":1.03,"y":-24.6},{"s":"k3","x":1.06,"y":-24.0},{"s":"k3","x":1.09,"y":-24.8},{"s":"k3","x":1.12,"y":-24.3},{"s":"k3","x":1.15,"y":-25.2},{"s":"k3","x":1.18,"y":-25.8},{"s":"k3","x":1.21,"y":-25.3},{"s":"k3","x":1.24,"y":-26.0},{"s":"k3","x":1.27,"y":-25.6},{"s":"k3","x":1.3,"y":-25.9},{"s":"k3","x":1.33,"y":-25.1},{"s":"k3","x":1.36,"y":-25.5},{"s":"k3","x":1.39,"y":-24.9},{"s":"k3","x":1.42,"y":-25.3},{"s":"k3","x":1.46,"y":-25.7},{"s":"k3","x":1.5,"y":-26.3},{"s":"k3","x":1.54,"y":-26.9},{"s":"k3","x":1.58,"y":-27.6},{"s":"k3","x":1.62,"y":-28.1},{"s":"k3","x":1.66,"y":-28.8},{"s":"k3","x":1.7,"y":-29.2},{"s":"k3","x":1.75,"y":-29.0},{"s":"k3","x":1.8,"y":-29.4},{"s":"k3","x":1.85,"y":-29.6},{"s":"k3","x":1.9,"y":-29.8},{"s":"k3","x":1.95,"y":-30.1},{"s":"k3","x":2.0,"y":-30.2},{"s":"k3","x":2.1,"y":-30.5},{"s":"k3","x":2.2,"y":-30.6},{"s":"k3","x":2.3,"y":-31.0},{"s":"k3","x":2.4,"y":-31.3},{"s":"k3","x":2.5,"y":-31.5},{"s":"k3","x":2.6,"y":-31.9},{"s":"k3","x":2.7,"y":-32.3},{"s":"k3","x":2.8,"y":-32.6},{"s":"k3","x":2.9,"y":-32.9},{"s":"k3","x":3.0,"y":-33.2},{"s":"k3","x":3.1,"y":-33.5},{"s":"k3","x":3.2,"y":-33.8},{"s":"k3","x":3.3,"y":-34.0},{"s":"k3","x":3.4,"y":-34.3},{"s":"k3","x":3.5,"y":-34.5},{"s":"k3","x":3.6,"y":-34.8},{"s":"k3","x":3.7,"y":-35.1},{"s":"k3","x":3.8,"y":-35.3},{"s":"k3","x":3.9,"y":-35.6},{"s":"k3","x":4.0,"y":-35.8},{"s":"k3","x":4.05,"y":-36.0},{"s":"k3","x":4.1,"y":-36.4},{"s":"k3","x":4.15,"y":-36.0},{"s":"k3","x":4.2,"y":-35.4},{"s":"k3","x":4.25,"y":-35.1},{"s":"k3","x":4.35,"y":-35.2},{"s":"k3","x":4.45,"y":-35.3},{"s":"k3","x":4.55,"y":-35.3},{"s":"k3","x":4.65,"y":-35.2},{"s":"k3","x":4.75,"y":-35.5},{"s":"k3","x":4.8,"y":-35.7},{"s":"k3","x":4.85,"y":-35.4},{"s":"k3","x":4.95,"y":-35.3},{"s":"k3","x":5.0,"y":-35.3}
],
"ta":[
{"t":"SPAPA (α = 0.005)","x":1.25,"y":-2.64},{"t":"SPAPA (α = 1)","x":2.59,"y":-6.74},{"t":"APA (α = 1)","x":4.16,"y":-25.7},{"t":"VSS-APA","x":1.64,"y":-20.3},{"t":"Proposed","x":0.78,"y":-30.4},{"t":"VSS-SPAPA","x":0.78,"y":-33.9},{"t":"P = 2","x":4.57,"y":-2.4}
],
"ra":[
{"x":1.361,"y":-4.82,"x2":1.078,"y2":-10.33,"a":124.9},{"x":2.502,"y":-9.43,"x2":2.502,"y2":-14.3,"a":90},{"x":4.253,"y":-23.4,"x2":4.253,"y2":-16.35,"a":-90},{"x":1.661,"y":-21.85,"x2":1.673,"y2":-26.08,"a":87.7},{"x":0.888,"y":-29.54,"x2":0.983,"y2":-26.85,"a":-64.5}
],
"tb":[
{"t":"SPAPA (P = 2, α = 0.005)","x":1.777,"y":-3.19},{"t":"SPAPA (P = 2, α = 1)","x":2.732,"y":-8.47},{"t":"VSS-APA (P = 2)","x":4.074,"y":-23.96}
],
"rb":[
{"x":0.624,"y":-2.96,"x2":0.34,"y2":-2.96,"a":180},{"x":2.3,"y":-10.26,"x2":2.3,"y2":-14.64,"a":90},{"x":4.14,"y":-25.98,"x2":4.14,"y2":-30.14,"a":90}
]
},
"spacing":16,
"vconcat":[
{
"width":529,"height":306,
"title":{"text":"(a)","orient":"bottom","anchor":"middle","frame":"group","offset":27},
"resolve":{"axis":{"x":"independent","y":"independent"}},
"layer":[
{"data":{"name":"a"},"mark":{"type":"line","clip":true},
"encoding":{
"x":{"field":"x","type":"quantitative","scale":{"domain":[0,5],"nice":false,"zero":false},"axis":{"orient":"bottom","values":[0,0.5,1,1.5,2,2.5,3,3.5,4,4.5,5],"format":"~g","title":"Number of iterations (×10⁴)","labelPadding":11,"titlePadding":6}},
"y":{"field":"y","type":"quantitative","scale":{"domain":[-38,1.2],"nice":false,"zero":false},"axis":{"orient":"left","values":[-35,-30,-25,-20,-15,-10,-5,0],"title":"Misalignment (dB)","labelPadding":11,"titlePadding":16}},
"color":{"field":"s","type":"nominal","legend":null,"scale":{"domain":["a1","a2","a3","a4","a5"],"range":["#9e2a1c","#1f8a3c","#2d4fa6","#ff2a2a","#000000"]}},
"strokeDash":{"field":"s","type":"nominal","legend":null,"scale":{"domain":["a1","a2","a3","a4","a5"],"range":[[7,3,1.5,3],[1.2,2.6],[1,0],[7,4],[1,0]]}},
"strokeWidth":{"field":"s","type":"nominal","legend":null,"scale":{"domain":["a1","a2","a3","a4","a5"],"range":[1.5,1.5,2.2,1.6,1.6]}}
}},
{"data":{"name":"ta"},"mark":{"type":"text","align":"center","baseline":"middle"},
"encoding":{
"x":{"field":"x","type":"quantitative","axis":{"orient":"top","labels":false,"title":null,"values":[0,0.5,1,1.5,2,2.5,3,3.5,4,4.5,5]}},
"y":{"field":"y","type":"quantitative","axis":{"orient":"right","labels":false,"title":null,"values":[-35,-30,-25,-20,-15,-10,-5,0]}},
"text":{"field":"t"}
}},
{"data":{"name":"ra"},"mark":{"type":"rule","color":"#111","strokeWidth":1.2},
"encoding":{
"x":{"field":"x","type":"quantitative","axis":null},"y":{"field":"y","type":"quantitative","axis":null},
"x2":{"field":"x2"},"y2":{"field":"y2"}
}},
{"data":{"name":"ra"},"mark":{"type":"point","shape":"M -1 -0.65 L 0 0 L -1 0.65","filled":false,"stroke":"#111","strokeWidth":1.2,"size":324,"opacity":1},
"encoding":{
"x":{"field":"x2","type":"quantitative","axis":null},"y":{"field":"y2","type":"quantitative","axis":null},
"angle":{"field":"a","type":"quantitative","scale":null}
}}
]
},
{
"width":529,"height":350,
"title":{"text":"(b)","orient":"bottom","anchor":"middle","frame":"group","offset":21},
"resolve":{"axis":{"x":"independent","y":"independent"}},
"layer":[
{"data":{"name":"b"},"mark":{"type":"line","clip":true},
"encoding":{
"x":{"field":"x","type":"quantitative","scale":{"domain":[0,5],"nice":false,"zero":false},"axis":{"orient":"bottom","values":[0,0.5,1,1.5,2,2.5,3,3.5,4,4.5,5],"format":"~g","title":"Number of iterations (×10⁴)","labelPadding":11,"titlePadding":6}},
"y":{"field":"y","type":"quantitative","scale":{"domain":[-38,1.3],"nice":false,"zero":false},"axis":{"orient":"left","values":[-35,-30,-25,-20,-15,-10,-5,0],"title":"Misalignment (dB)","labelPadding":11,"titlePadding":16}},
"color":{"field":"s","type":"nominal","scale":{"domain":["k1","k2","k3","k4","bs","bg","bm"],"range":["#2d4fa6","#ff2a2a","#000000","#1fb5b5","#9e3418","#1a7a3a","#a040b0"]},
"legend":{"values":["k1","k2","k3","k4"],"title":null,"orient":"none","direction":"horizontal","legendX":0,"legendY":432,"columns":2,"columnPadding":48,"rowPadding":-7,"symbolType":"stroke","symbolSize":1089,"symbolStrokeWidth":1.5,"labelOffset":15,"labelFont":"Liberation Serif","labelFontSize":19,"labelColor":"#222","labelLimit":300,"labelExpr":"datum.label == 'k1' ? 'VSS-SPAPA (P = 1)' : datum.label == 'k2' ? 'VSS-SPAPA (P = 4)' : datum.label == 'k3' ? 'VSS-SPAPA (P = 2)' : 'VSS-SPAPA (P = 8)'"}},
"strokeDash":{"field":"s","type":"nominal","scale":{"domain":["k1","k2","k3","k4","bs","bg","bm"],"range":[[6,3],[1.5,2.5],[1,0],[7,3,1.5,3],[1,0],[1,0],[8,5]]},
"legend":{"values":["k1","k2","k3","k4"],"title":null,"orient":"none","direction":"horizontal","legendX":0,"legendY":432,"columns":2,"columnPadding":48,"rowPadding":-7,"symbolType":"stroke","symbolSize":1089,"symbolStrokeWidth":1.5,"labelOffset":15,"labelFont":"Liberation Serif","labelFontSize":19,"labelColor":"#222","labelLimit":300,"labelExpr":"datum.label == 'k1' ? 'VSS-SPAPA (P = 1)' : datum.label == 'k2' ? 'VSS-SPAPA (P = 4)' : datum.label == 'k3' ? 'VSS-SPAPA (P = 2)' : 'VSS-SPAPA (P = 8)'"}},
"strokeWidth":{"field":"s","type":"nominal","legend":null,"scale":{"domain":["k1","k2","k3","k4","bs","bg","bm"],"range":[1.8,1.6,1.8,1.6,1.6,1.8,1.6]}}
}},
{"data":{"name":"tb"},"mark":{"type":"text","align":"center","baseline":"middle"},
"encoding":{
"x":{"field":"x","type":"quantitative","axis":{"orient":"top","labels":false,"title":null,"values":[0,0.5,1,1.5,2,2.5,3,3.5,4,4.5,5]}},
"y":{"field":"y","type":"quantitative","axis":{"orient":"right","labels":false,"title":null,"values":[-35,-30,-25,-20,-15,-10,-5,0]}},
"text":{"field":"t"}
}},
{"data":{"name":"rb"},"mark":{"type":"rule","color":"#111","strokeWidth":1.2},
"encoding":{
"x":{"field":"x","type":"quantitative","axis":null},"y":{"field":"y","type":"quantitative","axis":null},
"x2":{"field":"x2"},"y2":{"field":"y2"}
}},
{"data":{"name":"rb"},"mark":{"type":"point","shape":"M -1 -0.65 L 0 0 L -1 0.65","filled":false,"stroke":"#111","strokeWidth":1.2,"size":324,"opacity":1},
"encoding":{
"x":{"field":"x2","type":"quantitative","axis":null},"y":{"field":"y2","type":"quantitative","axis":null},
"angle":{"field":"a","type":"quantitative","scale":null}
}}
]
}
]
}
